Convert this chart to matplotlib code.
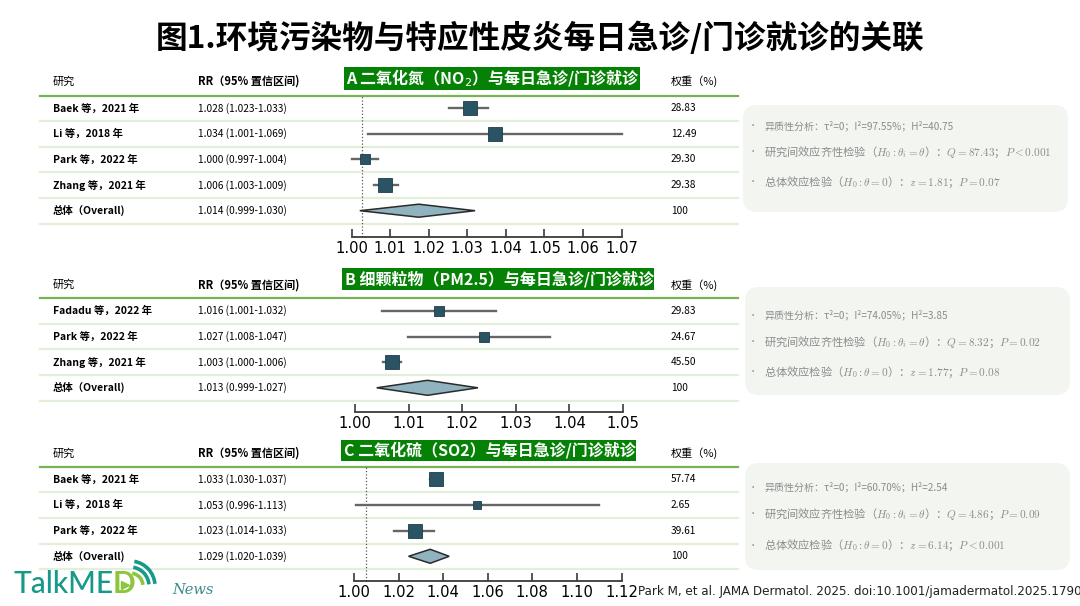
import matplotlib
matplotlib.use('Agg')
import matplotlib.pyplot as plt
from matplotlib import font_manager as fm
from matplotlib.patches import Rectangle, FancyBboxPatch, Arc

W, H = 1080, 606
CJK = ['Noto Sans CJK SC', 'DejaVu Sans']
plt.rcParams['font.family'] = CJK


def find_narrow():
    # look for an installed condensed / narrow sans face
    prefs = ['Liberation Sans Narrow', 'Noto Sans', 'DejaVu Sans', 'Roboto', 'Open Sans']
    found = []
    for f in fm.fontManager.ttflist:
        st = str(f.stretch).lower()
        narrow = ('narrow' in f.name.lower() or 'condensed' in f.name.lower()
                  or st in ('condensed', 'semi-condensed', '75', '87.5')
                  or 'condensed' in f.fname.lower() or 'narrow' in f.fname.lower())
        if not narrow or f.style != 'normal':
            continue
        if str(f.weight) not in ('400', 'normal', 'regular', 'book'):
            continue
        low = f.fname.lower()
        if 'semi' in low or 'extra' in low or 'ultra' in low:
            continue
        rank = next((i for i, p in enumerate(prefs) if f.name.startswith(p)), 99)
        found.append((rank, f.fname))
    if found:
        found.sort()
        return fm.FontProperties(fname=found[0][1]), True
    return fm.FontProperties(family='Liberation Sans'), False


NARROW_FP, HAS_NARROW = find_narrow()

# ---- colours ----
GREEN_BOX = '#058205'
GREEN_LINE = '#77b255'
ROW_LINE = '#e3efd9'
SQ = '#2a5463'
CI = '#666666'
DIA = '#8fb3bf'
GREY_TXT = '#8c8c8c'
BOX_BG = '#f3f5f0'

# ---- data: panel A (NO2) ----
A_STUDIES = ['Baek 等，2021 年', 'Li 等，2018 年', 'Park 等，2022 年', 'Zhang 等，2021 年']
A_RR = ['1.028 (1.023-1.033)', '1.034 (1.001-1.069)', '1.000 (0.997-1.004)', '1.006 (1.003-1.009)']
A_WT = ['28.83', '12.49', '29.30', '29.38']
A_EST = [1.0307, 1.0372, 1.0034, 1.0086]
A_LO = [1.0253, 1.0041, 1.0000, 1.0057]
A_HI = [1.0353, 1.0700, 1.0067, 1.0119]
A_POOL = [1.0021, 1.0174, 1.0320]
A_POOL_RR = '1.014 (0.999-1.030)'
A_TICKS = [1.00, 1.01, 1.02, 1.03, 1.04, 1.05, 1.06, 1.07]
A_REF = 1.0028
A_STATS = ['异质性分析：τ²=0；I²=97.55%；H²=40.75',
           r'研究间效应齐性检验（$H_0:\theta_i=\theta$）：$Q=87.43$；$P<0.001$',
           r'总体效应检验（$H_0:\theta=0$）：$z=1.81$；$P=0.07$']

# ---- data: panel B (PM2.5) ----
B_STUDIES = ['Fadadu 等，2022 年', 'Park 等，2022 年', 'Zhang 等，2021 年']
B_RR = ['1.016 (1.001-1.032)', '1.027 (1.008-1.047)', '1.003 (1.000-1.006)']
B_WT = ['29.83', '24.67', '45.50']
B_EST = [1.0157, 1.0240, 1.0069]
B_LO = [1.0050, 1.0098, 1.0052]
B_HI = [1.0263, 1.0363, 1.0086]
B_POOL = [1.0040, 1.0135, 1.0229]
B_POOL_RR = '1.013 (0.999-1.027)'
B_TICKS = [1.00, 1.01, 1.02, 1.03, 1.04, 1.05]
B_REF = None
B_STATS = ['异质性分析：τ²=0；I²=74.05%；H²=3.85',
           r'研究间效应齐性检验（$H_0:\theta_i=\theta$）：$Q=8.32$；$P=0.02$',
           r'总体效应检验（$H_0:\theta=0$）：$z=1.77$；$P=0.08$']

# ---- data: panel C (SO2) ----
C_STUDIES = ['Baek 等，2021 年', 'Li 等，2018 年', 'Park 等，2022 年']
C_RR = ['1.033 (1.030-1.037)', '1.053 (0.996-1.113)', '1.023 (1.014-1.033)']
C_WT = ['57.74', '2.65', '39.61']
C_EST = [1.0368, 1.0553, 1.0274]
C_LO = [1.0340, 1.0010, 1.0181]
C_HI = [1.0390, 1.1100, 1.0358]
C_POOL = [1.0245, 1.0342, 1.0427]
C_POOL_RR = '1.029 (1.020-1.039)'
C_TICKS = [1.00, 1.02, 1.04, 1.06, 1.08, 1.10, 1.12]
C_REF = 1.0052
C_STATS = ['异质性分析：τ²=0；I²=60.70%；H²=2.54',
           r'研究间效应齐性检验（$H_0:\theta_i=\theta$）：$Q=4.86$；$P=0.09$',
           r'总体效应检验（$H_0:\theta=0$）：$z=6.14$；$P<0.001$']

TICK_FS = 11.8 if HAS_NARROW else 10.5
CITE_FS = 9.5 if HAS_NARROW else 8.6

fig = plt.figure(figsize=(W / 100, H / 100), dpi=100, facecolor='white')
bg = fig.add_axes([0, 0, 1, 1])
bg.set_xlim(0, W); bg.set_ylim(H, 0); bg.axis('off')

bg.text(540, 38, '图1.环境污染物与特应性皮炎每日急诊/门诊就诊的关联', fontsize=22.8,
        fontweight='heavy', ha='center', va='center', color='black')


def draw_panel(title, studies, rr, wt, est, lo, hi, pool, pool_rr, ticks, ref, stats,
               head_y, box, line_y, row0, axis_y, x0, x1, sq_sizes, dia_h, stat_box, stat_ys):
    # header row
    bg.text(53, head_y, '研究', fontsize=8, va='center')
    bg.text(198, head_y, 'RR（95% 置信区间)', fontsize=8, fontweight='bold', va='center')
    bg.text(671, head_y, '权重（%)', fontsize=8, va='center')
    bx, by, bw, bh = box
    bg.add_patch(Rectangle((bx, by), bw, bh, facecolor=GREEN_BOX, edgecolor='none'))
    bg.text(bx + 3, by + bh / 2 + 0.5, title, fontsize=11.5, fontweight='bold',
            color='white', va='center', math_fontfamily='dejavusans')
    bg.plot([40, 738], [line_y, line_y], color=GREEN_LINE, lw=1.6)

    labels = studies + ['总体（Overall)']
    rrs = rr + [pool_rr]
    wts = wt + ['100']
    row_h = 25.6
    for i, (lab, r, w) in enumerate(zip(labels, rrs, wts)):
        y = row0 + i * row_h
        bg.text(53, y, lab, fontsize=7.5, fontweight='bold', va='center')
        bg.text(198, y, r, fontsize=7.3, va='center')
        bg.text(671, y, w, fontsize=7.3, va='center')
        bg.plot([40, 738], [y + 12.8, y + 12.8], color=ROW_LINE, lw=1.6, zorder=0)

    # forest axes: y in pixel units, x in RR units
    ax = fig.add_axes([x0 / W, 1 - axis_y / H, (x1 - x0) / W, (axis_y - line_y) / H])
    ax.set_xlim(ticks[0], ticks[-1])
    ax.set_ylim(axis_y, line_y)
    ax.patch.set_alpha(0)
    for s in ['top', 'left', 'right']:
        ax.spines[s].set_visible(False)
    ax.spines['bottom'].set_color('#3a3a3a')
    ax.spines['bottom'].set_linewidth(1.3)
    ax.set_yticks([])
    ax.set_xticks(ticks)
    ax.set_xticklabels([f'{t:.2f}' for t in ticks], fontproperties=NARROW_FP, fontsize=TICK_FS)
    ax.tick_params(axis='x', direction='in', length=6, width=1.2, color='#3a3a3a', pad=3)
    if ref is not None:
        ax.axvline(ref, color='#555555', ls=':', lw=0.9, zorder=1)
    for i in range(len(est)):
        y = row0 + i * row_h
        ax.plot([lo[i], hi[i]], [y, y], color=CI, lw=1.7, zorder=2, clip_on=False)
        ax.plot(est[i], y, marker='s', ms=sq_sizes[i], mfc=SQ, mec='#1d3d48',
                mew=0.6, zorder=3, clip_on=False)
    y = row0 + len(est) * row_h
    ax.fill([pool[0], pool[1], pool[2], pool[1]],
            [y, y - dia_h / 2, y, y + dia_h / 2],
            facecolor=DIA, edgecolor='#2b2b2b', lw=1.1, zorder=3, clip_on=False)

    # statistics box
    sx, sy, sw, sh = stat_box
    bg.add_patch(FancyBboxPatch((sx, sy), sw, sh, boxstyle='round,pad=0,rounding_size=14',
                                facecolor=BOX_BG, edgecolor='none'))
    for j, (txt, ty) in enumerate(zip(stats, stat_ys)):
        bg.text(753, ty, '•', fontsize=6, color=GREY_TXT, va='center', ha='center')
        bg.text(764, ty, txt, fontsize=7.2 if j == 0 else 8.1, color=GREY_TXT,
                va='center', math_fontfamily='cm')


draw_panel('A 二氧化氮（NO$_2$）与每日急诊/门诊就诊', A_STUDIES, A_RR, A_WT, A_EST, A_LO, A_HI,
           A_POOL, A_POOL_RR, A_TICKS, A_REF, A_STATS,
           head_y=81.5, box=(343.5, 67, 296.5, 22.5), line_y=95.5, row0=108.3, axis_y=236.7,
           x0=351.7, x1=621.6, sq_sizes=[9.5, 9.5, 7, 9.5], dia_h=13,
           stat_box=(743, 105, 325, 107), stat_ys=[126, 152, 182])
draw_panel('B 细颗粒物（PM2.5）与每日急诊/门诊就诊', B_STUDIES, B_RR, B_WT, B_EST, B_LO, B_HI,
           B_POOL, B_POOL_RR, B_TICKS, B_REF, B_STATS,
           head_y=285, box=(341.8, 268, 311.7, 21.5), line_y=297.5, row0=311, axis_y=411.7,
           x0=355.3, x1=623, sq_sizes=[7.5, 7.5, 9.5], dia_h=15,
           stat_box=(745, 287, 325, 108), stat_ys=[315, 342, 372])
draw_panel('C 二氧化硫（SO2）与每日急诊/门诊就诊', C_STUDIES, C_RR, C_WT, C_EST, C_LO, C_HI,
           C_POOL, C_POOL_RR, C_TICKS, C_REF, C_STATS,
           head_y=453.3, box=(341.3, 439.5, 295, 21), line_y=467, row0=479.5, axis_y=580.7,
           x0=353.9, x1=621.6, sq_sizes=[10, 5.5, 9.5], dia_h=14,
           stat_box=(745, 463, 325, 107), stat_ys=[487.5, 514, 545])

# ---- logo ----
bg.text(13, 584, 'TalkME', fontsize=21.5, color='#17998a', fontweight='medium',
        family=['Lato', 'DejaVu Sans'], va='center')
bg.text(113, 584, 'D', fontsize=21.5, color='#8cc63f', fontweight='bold',
        family=['Lato', 'DejaVu Sans'], va='center')
bg.plot(125, 585, marker='>', ms=5.5, color='#8cc63f')
for r, c in [(13, '#8cc63f'), (19, '#17998a'), (25, '#17998a')]:
    bg.add_patch(Arc((130, 586), 2 * r, 2 * r, theta1=280, theta2=355, color=c, lw=2.6))
bg.text(172, 590, 'News', fontsize=10.5, style='italic', color='#3a8c8a',
        family=['DejaVu Serif'], va='center')

bg.text(638, 592, 'Park M, et al. JAMA Dermatol. 2025. doi:10.1001/jamadermatol.2025.1790',
        fontproperties=NARROW_FP, fontsize=CITE_FS, color='#222222', va='center')

fig.savefig('out.png', dpi=100, facecolor='white')
